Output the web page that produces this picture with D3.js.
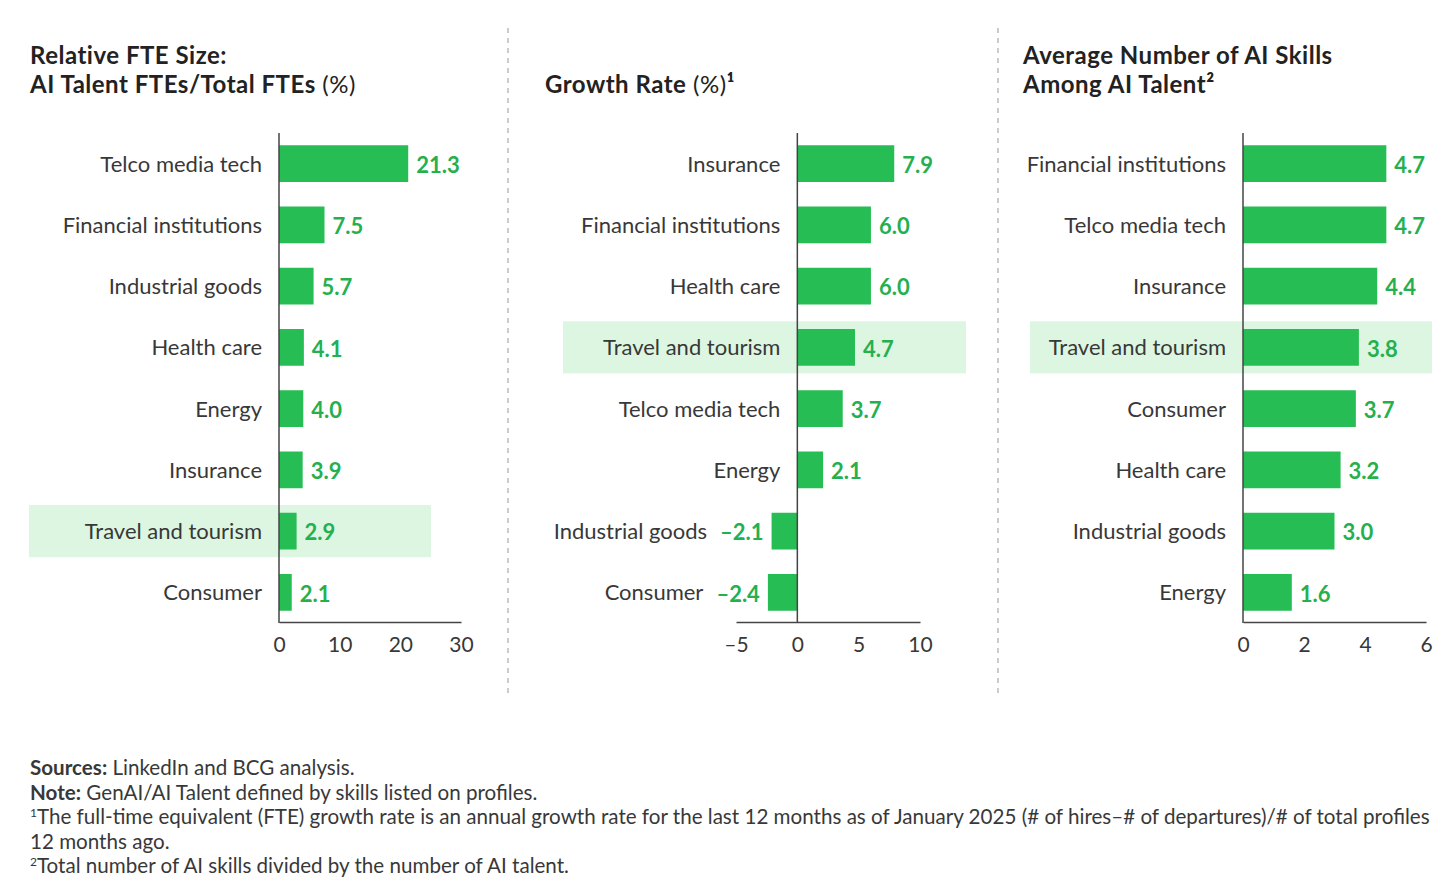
<!DOCTYPE html>
<html>
<head>
<meta charset="utf-8">
<script src="https://cdnjs.cloudflare.com/ajax/libs/d3/7.8.5/d3.min.js"></script>
<style>
body { margin: 0; background: #fff; }
text { font-family: Lato, "Noto Sans", sans-serif; }
</style>
</head>
<body>
<script>
// data
var cats1 = ["Telco media tech", "Financial institutions", "Industrial goods", "Health care", "Energy", "Insurance", "Travel and tourism", "Consumer"];
var vals1 = [21.3, 7.5, 5.7, 4.1, 4.0, 3.9, 2.9, 2.1];
var cats2 = ["Insurance", "Financial institutions", "Health care", "Travel and tourism", "Telco media tech", "Energy", "Industrial goods", "Consumer"];
var vals2 = [7.9, 6.0, 6.0, 4.7, 3.7, 2.1, -2.1, -2.4];
var cats3 = ["Financial institutions", "Telco media tech", "Insurance", "Travel and tourism", "Consumer", "Health care", "Industrial goods", "Energy"];
var vals3 = [4.7, 4.7, 4.4, 3.8, 3.7, 3.2, 3.0, 1.6];
var ticks1 = [0, 10, 20, 30];
var ticks2 = [-5, 0, 5, 10];
var ticks3 = [0, 2, 4, 6];
var highlight = "Travel and tourism";

var width = 1456, height = 887;
var green = "#27bd55", labelGreen = "#25b04f", bandFill = "#dcf6e1", ink = "#383838";

var svg = d3.select("body").append("svg")
	.attr("width", width)
	.attr("height", height);

var panels = [
	{title: ["Relative FTE Size:", "AI Talent FTEs/Total FTEs"], suffix: [null, " (%)"], sup: [null, null], tx: 30,
	 cats: cats1, vals: vals1, ticks: ticks1, domain: [0, 30], range: [279, 461], band: [29, 431]},
	{title: [null, "Growth Rate"], suffix: [null, " (%)"], sup: [null, "¹"], tx: 545,
	 cats: cats2, vals: vals2, ticks: ticks2, domain: [-5, 10], range: [736, 920], band: [563, 966]},
	{title: ["Average Number of AI Skills", "Among AI Talent"], suffix: [null, null], sup: [null, "²"], tx: 1023,
	 cats: cats3, vals: vals3, ticks: ticks3, domain: [0, 6], range: [1243, 1426], band: [1030, 1432]}
];

var fmt = function(v) {
	return (v < 0 ? "–" : "") + Math.abs(v).toFixed(1);
};

panels.forEach(function(p) {
	var g = svg.append("g");
	var x = d3.scaleLinear().domain(p.domain).range(p.range);
	var y = d3.scaleBand().domain(p.cats).range([133, 623]).paddingInner(0.4).paddingOuter(0.2);
	var yb = d3.scaleBand().domain(p.cats).range([133, 623]).paddingInner(0.15).paddingOuter(0.075);
	var data = p.cats.map(function(c, i) { return {cat: c, val: p.vals[i]}; });

	// title
	[64, 93].forEach(function(ty, i) {
		if (!p.title[i]) return;
		var t = g.append("text").attr("x", p.tx).attr("y", ty)
			.attr("font-size", 24).attr("font-weight", 700).attr("fill", "#222")
			.attr("letter-spacing", 0.5)
			.text(p.title[i]);
		if (p.suffix[i]) t.append("tspan").attr("font-weight", 400).text(p.suffix[i]);
		if (p.sup[i]) t.append("tspan").attr("font-weight", 700).text(p.sup[i]);
	});

	// highlight band
	g.append("rect")
		.attr("x", p.band[0])
		.attr("y", yb(highlight))
		.attr("width", p.band[1] - p.band[0])
		.attr("height", yb.bandwidth())
		.attr("fill", bandFill);

	// bars
	g.selectAll(".bar").data(data).enter().append("rect")
		.attr("class", "bar")
		.attr("x", function(d) { return x(Math.min(0, d.val)); })
		.attr("y", function(d) { return y(d.cat); })
		.attr("width", function(d) { return Math.abs(x(d.val) - x(0)); })
		.attr("height", y.bandwidth())
		.attr("fill", green);

	// value labels
	var vl = g.selectAll(".val").data(data).enter().append("text")
		.attr("class", "val")
		.attr("x", function(d) { return d.val < 0 ? x(d.val) - 8 : x(d.val) + 8; })
		.attr("y", function(d) { return y(d.cat) + y.bandwidth() / 2; })
		.attr("dy", "0.42em")
		.attr("text-anchor", function(d) { return d.val < 0 ? "end" : "start"; })
		.attr("font-size", 22).attr("font-weight", 700).attr("fill", labelGreen)
		.text(function(d) { return fmt(d.val); });

	// category labels
	var widths = {};
	vl.each(function(d) { widths[d.cat] = this.getComputedTextLength(); });
	g.selectAll(".cat").data(data).enter().append("text")
		.attr("class", "cat")
		.attr("x", function(d) { return d.val < 0 ? x(d.val) - 8 - widths[d.cat] - 13 : x(0) - 17; })
		.attr("y", function(d) { return y(d.cat) + y.bandwidth() / 2; })
		.attr("dy", "0.36em")
		.attr("text-anchor", "end")
		.attr("font-size", 22).attr("fill", ink)
		.text(function(d) { return d.cat; });

	// axes
	g.append("line")
		.attr("x1", x(0)).attr("x2", x(0)).attr("y1", 133).attr("y2", 623)
		.attr("stroke", "#444").attr("stroke-width", 1.5);
	var ax = g.append("g")
		.attr("transform", "translate(0,622)")
		.call(d3.axisBottom(x).tickValues(p.ticks).tickSize(0).tickPadding(15)
			.tickFormat(function(d) { return d < 0 ? "–" + Math.abs(d) : d; }));
	ax.select(".domain").attr("stroke", "#444").attr("stroke-width", 1.5);
	ax.selectAll("text").attr("font-size", 21).attr("fill", ink)
		.style("font-family", "Lato, 'Noto Sans', sans-serif");
});

// separators
[508, 998].forEach(function(sx) {
	svg.append("line")
		.attr("x1", sx).attr("x2", sx).attr("y1", 28).attr("y2", 698)
		.attr("stroke", "#aaa").attr("stroke-width", 1.2)
		.attr("stroke-dasharray", "5,5");
});

// footnotes
var notes = [
	{b: "Sources:", t: " LinkedIn and BCG analysis."},
	{b: "Note:", t: " GenAI/AI Talent defined by skills listed on profiles."},
	{s: "1", t: "The full-time equivalent (FTE) growth rate is an annual growth rate for the last 12 months as of January 2025 (# of hires–# of departures)/# of total profiles"},
	{t: "12 months ago."},
	{s: "2", t: "Total number of AI skills divided by the number of AI talent."}
];
notes.forEach(function(n, i) {
	var t = svg.append("text").attr("x", 30).attr("y", 775 + i * 24.6)
		.attr("font-size", 20.6).attr("fill", ink);
	if (n.b) t.append("tspan").attr("font-weight", 700).text(n.b);
	if (n.s) t.append("tspan").attr("font-size", 12).attr("dy", -7).text(n.s);
	t.append("tspan").attr("dy", n.s ? 7 : 0).text(n.t);
});
</script>
</body>
</html>
